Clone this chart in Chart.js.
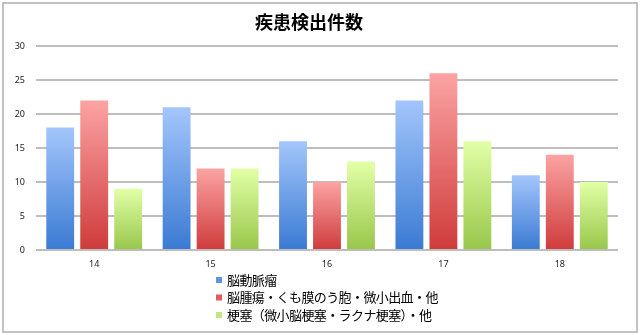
<!DOCTYPE html>
<html><head><meta charset="utf-8">
<script src="https://cdn.jsdelivr.net/npm/chart.js@4/dist/chart.umd.min.js"></script>
<style>
html,body{margin:0;padding:0;background:#fff;}
#wrap{position:relative;width:640px;height:335px;}
#frame{position:absolute;left:2px;top:2px;width:636px;height:331px;border:2px solid #c2c2c2;box-sizing:border-box;pointer-events:none;}
canvas{display:block;}
</style></head><body>
<div id="wrap"><canvas id="c" width="640" height="335"></canvas><div id="frame"></div></div>
<script>
const chartTitle = '疾患検出件数';
const categories = ['14', '15', '16', '17', '18'];
const seriesNames = ['脳動脈瘤', '脳腫瘍・くも膜のう胞・微小出血・他', '梗塞（微小脳梗塞・ラクナ梗塞）・他'];
const aneurysm = [18, 21, 16, 22, 11];
const tumorEtc = [22, 12, 10, 26, 14];
const infarctEtc = [9, 12, 13, 16, 10];
const yTicks = [0, 5, 10, 15, 20, 25, 30];

const JP = '"Noto Sans CJK JP", "Noto Sans", sans-serif';
const palette = [
  {top: '#a3c6fb', bottom: '#3a7ad3', legend: '#5f94e6'},
  {top: '#fca3a3', bottom: '#cf3b3b', legend: '#e05b5b'},
  {top: '#e2ffa6', bottom: '#98c74a', legend: '#c3e87f'}
];

function grad(p) {
  return function(ctx) {
    const chart = ctx.chart, area = chart.chartArea;
    if (!area || ctx.type !== 'data' || !chart.scales.y) return p.bottom;
    const v = ctx.parsed ? ctx.parsed.y : ctx.raw;
    const y = chart.scales.y.getPixelForValue(v);
    const base = chart.scales.y.getPixelForValue(0);
    const g = chart.ctx.createLinearGradient(0, y, 0, base);
    g.addColorStop(0, p.top);
    g.addColorStop(1, p.bottom);
    return g;
  };
}

const legendPlugin = {
  id: 'vlegend',
  afterDraw(chart) {
    const ctx = chart.ctx;
    ctx.save();
    ctx.font = '13px ' + JP;
    ctx.textBaseline = 'middle';
    ctx.textAlign = 'left';
    if ('letterSpacing' in ctx) ctx.letterSpacing = '-0.6px';
    const left = 216, rowY = [280, 297.5, 315];
    seriesNames.forEach((name, i) => {
      ctx.fillStyle = palette[i].legend;
      ctx.fillRect(left, rowY[i] - 3, 6, 6);
      ctx.fillStyle = '#000';
      ctx.fillText(name, left + 11, rowY[i]);
    });
    ctx.restore();
  }
};

const datasets = [aneurysm, tumorEtc, infarctEtc].map((d, i) => ({
  label: seriesNames[i],
  data: d,
  backgroundColor: grad(palette[i]),
  borderWidth: 0,
  categoryPercentage: 0.876,
  barPercentage: 0.82
}));

new Chart(document.getElementById('c'), {
  type: 'bar',
  data: {labels: categories, datasets},
  plugins: [legendPlugin],
  options: {
    responsive: false,
    animation: false,
    devicePixelRatio: 1,
    layout: {padding: {left: 0, right: 22, top: 0, bottom: 65}},
    plugins: {
      legend: {display: false},
      tooltip: {enabled: false},
      title: {
        display: true,
        text: chartTitle,
        color: '#000',
        font: {family: JP, size: 18, weight: 'bold'},
        padding: {top: 11, bottom: 13.4}
      }
    },
    scales: {
      x: {
        grid: {display: false, drawTicks: false},
        border: {display: false},
        ticks: {color: '#222', font: {family: '"Noto Sans", sans-serif', size: 9}, padding: 9},
        afterFit(s) { s.height = 20; }
      },
      y: {
        min: 0, max: 30,
        afterBuildTicks(s) { s.ticks = yTicks.map(v => ({value: v})); },
        grid: {color: '#bdbdbd', lineWidth: 2, drawTicks: false},
        border: {display: false},
        ticks: {color: '#222', font: {family: '"Noto Sans", sans-serif', size: 9}, padding: 11},
        afterFit(s) { s.width = 36; }
      }
    }
  }
});
</script>
</body></html>
